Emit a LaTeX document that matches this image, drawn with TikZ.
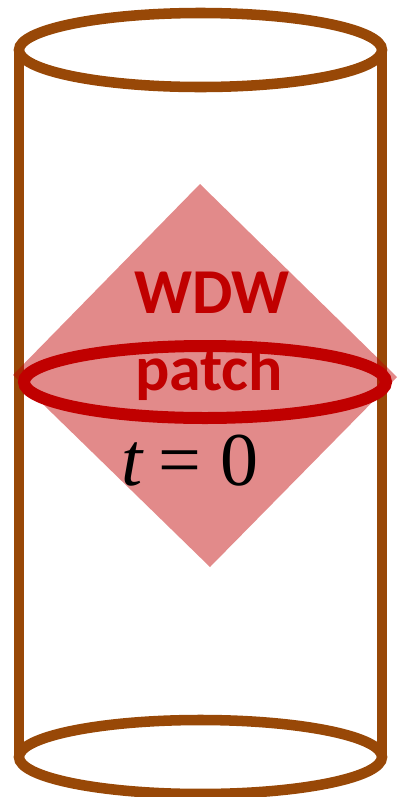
\documentclass[tikz,border=0pt]{standalone}
\usepackage{fontspec}
\newfontfamily\labelfont{Carlito}
\newfontfamily\timefont{Liberation Serif}
\definecolor{cylbrown}{HTML}{984807}
\definecolor{patchred}{HTML}{C00000}

\begin{document}
\begin{tikzpicture}[x=0.75pt,y=-0.75pt,
  cylline/.style={draw=cylbrown,line width=7.9pt},
  slice/.style={draw=patchred,line width=9pt},
  patchlabel/.style={text=patchred,inner sep=0pt,anchor=base,font=\labelfont\bfseries\fontsize{48}{48}\selectfont},
  timelabel/.style={inner sep=0pt,anchor=base,font=\timefont\fontsize{57}{57}\selectfont}]
\useasboundingbox (0,0) rectangle (403,797);

% cylinder
\foreach \x in {19,382}
  \draw[cylline] (\x,50) -- (\x,757);
\foreach \y in {50,757}
  \draw[cylline] (200.5,\y) ellipse [x radius=181.5,y radius=37];

% WDW patch
\coordinate (ptop) at (200,184);
\coordinate (pright) at (397,377);
\coordinate (pbottom) at (210,567);
\coordinate (pleft) at (13,375);
\fill[patchred,opacity=0.46] (ptop) -- (pright) -- (pbottom) -- (pleft) -- cycle;

% t=0 slice
\draw[slice] (205,382) ellipse [x radius=181,y radius=36];

\node[patchlabel] (wdw) at (212,313) {WDW};
\node[patchlabel] (patch) at (209,390) {patch};
\node[timelabel] (time) at (190,485) {{\itshape t}\hspace{-2pt} = 0};
\end{tikzpicture}
\end{document}
